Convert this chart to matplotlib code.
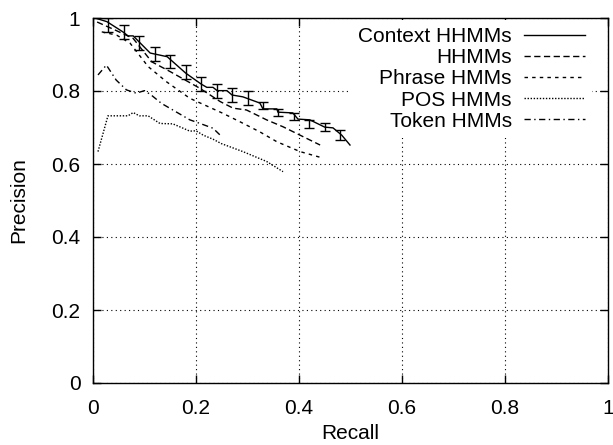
import matplotlib
matplotlib.use('Agg')
import matplotlib.pyplot as plt

plt.rcParams['font.family'] = ['Liberation Sans', 'DejaVu Sans']
plt.rcParams['font.size'] = 15

# Context HHMMs: line and error bars
ctx_recall = [0.004, 0.027, 0.058, 0.068, 0.078, 0.111, 0.144, 0.180, 0.210, 0.221, 0.233,
              0.241, 0.260, 0.270, 0.291, 0.324, 0.330, 0.357, 0.359, 0.388, 0.398, 0.421,
              0.450, 0.466, 0.483, 0.499]
ctx_prec = [1.0, 0.990, 0.962, 0.951, 0.951, 0.904, 0.894, 0.849, 0.819, 0.810, 0.810,
            0.801, 0.801, 0.789, 0.784, 0.767, 0.751, 0.751, 0.742, 0.740, 0.723, 0.721,
            0.701, 0.699, 0.679, 0.652]
err_recall = [0.03, 0.06, 0.09, 0.12, 0.15, 0.18, 0.21, 0.24, 0.27, 0.30, 0.33, 0.36,
              0.39, 0.42, 0.45, 0.48]
err_prec = [0.982, 0.962, 0.932, 0.902, 0.881, 0.852, 0.819, 0.801, 0.790, 0.781, 0.761,
            0.741, 0.731, 0.710, 0.701, 0.679]
err_size = [0.019, 0.019, 0.019, 0.019, 0.019, 0.019, 0.019, 0.019, 0.019, 0.019, 0.010,
            0.010, 0.010, 0.010, 0.010, 0.014]

hhmm_recall = [0.008, 0.043, 0.078, 0.114, 0.150, 0.208, 0.247, 0.272, 0.298, 0.337, 0.369,
               0.402, 0.441]
hhmm_prec = [0.989, 0.967, 0.944, 0.880, 0.853, 0.807, 0.771, 0.753, 0.748, 0.721, 0.702,
             0.679, 0.652]

phrase_recall = [0.017, 0.046, 0.072, 0.107, 0.143, 0.188, 0.252, 0.285, 0.324, 0.357,
                 0.402, 0.447]
phrase_prec = [0.962, 0.953, 0.931, 0.867, 0.825, 0.780, 0.739, 0.716, 0.688, 0.661,
               0.634, 0.616]

pos_recall = [0.0097, 0.029, 0.068, 0.078, 0.090, 0.107, 0.130, 0.155, 0.175, 0.188, 0.200,
              0.214, 0.233, 0.249, 0.291, 0.337, 0.369]
pos_prec = [0.634, 0.732, 0.732, 0.741, 0.732, 0.732, 0.711, 0.710, 0.698, 0.690, 0.691,
            0.679, 0.668, 0.656, 0.634, 0.607, 0.579]

token_recall = [0.0097, 0.026, 0.045, 0.065, 0.084, 0.100, 0.113, 0.133, 0.155, 0.188,
                0.208, 0.233, 0.247]
token_prec = [0.844, 0.871, 0.830, 0.803, 0.794, 0.801, 0.789, 0.766, 0.748, 0.721,
              0.711, 0.698, 0.679]

ticks = [0, 0.2, 0.4, 0.6, 0.8, 1]
tick_labels = ['0', '0.2', '0.4', '0.6', '0.8', '1']

fig = plt.figure(figsize=(6.13, 4.45), dpi=100)
ax = fig.add_axes([93/613, 62/445, 515/613, 365/445])

lw = 1.0
ax.plot(ctx_recall, ctx_prec, color='black', lw=lw, label='Context HHMMs')
ax.errorbar(err_recall, err_prec, yerr=err_size, fmt='none', ecolor='black',
            elinewidth=lw, capsize=3.6, capthick=lw)
ax.plot(hhmm_recall, hhmm_prec, color='black', lw=lw, dashes=(4.5, 2.5), label='HHMMs')
ax.plot(phrase_recall, phrase_prec, color='black', lw=lw, dashes=(2.5, 3), label='Phrase HMMs')
ax.plot(pos_recall, pos_prec, color='black', lw=lw, dashes=(1, 1.2), label='POS HMMs')
ax.plot(token_recall, token_prec, color='black', lw=lw, dashes=(4.5, 2.5, 1, 2.5), label='Token HMMs')

ax.set_xlim(0, 1)
ax.set_ylim(0, 1)
ax.set_xticks(ticks)
ax.set_xticklabels(tick_labels)
ax.set_yticks(ticks)
ax.set_yticklabels(tick_labels)
ax.tick_params(direction='in', length=6, width=1, top=True, right=True)
ax.tick_params(axis='x', pad=11.5)
ax.tick_params(axis='y', pad=9)
ax.grid(True, color='black', linestyle=(0, (1, 3)), linewidth=0.8)
for s in ax.spines.values():
    s.set_linewidth(1.0)

ax.set_xlabel('Recall', labelpad=4)
ax.set_ylabel('Precision', labelpad=17)

leg = ax.legend(loc='upper right', bbox_to_anchor=(0.969, 0.9945), borderaxespad=0,
                markerfirst=False, handlelength=2.9, handletextpad=0.6, labelspacing=0.1,
                frameon=True, facecolor='white', edgecolor='none', framealpha=1,
                fancybox=False, borderpad=0.35)
for col in leg._legend_handle_box.get_children():
    col.align = 'right'
leg.set_zorder(5)

fig.savefig('out.png', dpi=100)
